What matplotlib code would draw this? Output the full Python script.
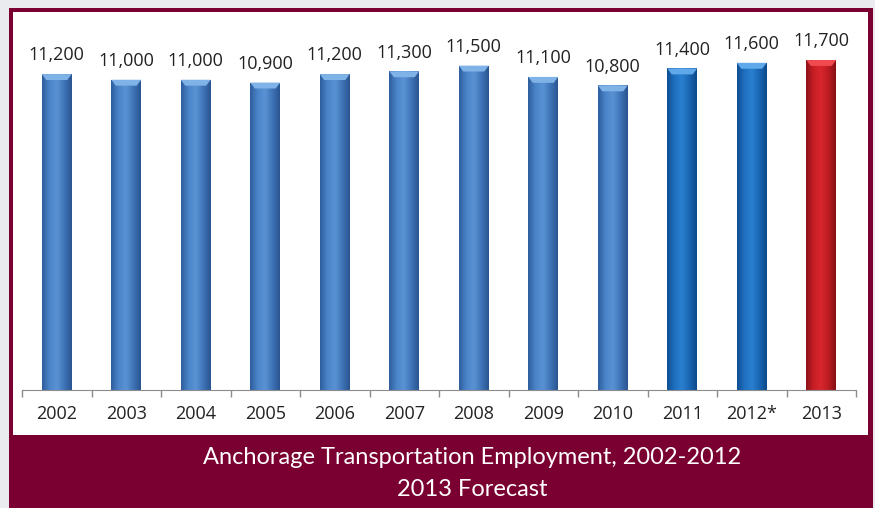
import matplotlib
matplotlib.use("Agg")
import matplotlib.pyplot as plt
from matplotlib.patches import Rectangle
import numpy as np

years = ["2002", "2003", "2004", "2005", "2006", "2007", "2008", "2009", "2010", "2011", "2012*", "2013"]
employment = [11200, 11000, 11000, 10900, 11200, 11300, 11500, 11100, 10800, 11400, 11600, 11700]
kind = ["hist"] * 9 + ["recent", "recent", "forecast"]

W, H = 875, 508
MAROON = "#7b0032"
fig = plt.figure(figsize=(W / 100, H / 100), dpi=100)
fig.patch.set_facecolor("#e9ebee")

def px(x, y, w, h):
    return [x / W, 1 - (y + h) / H, w / W, h / H]

# frame + white panel + title band
fig.patches.append(Rectangle((9 / W, 0), (873 - 9) / W, 1 - 8 / H,
                             transform=fig.transFigure, facecolor=MAROON, edgecolor="none", zorder=0))
fig.patches.append(Rectangle((13 / W, 1 - 435 / H), (868 - 13) / W, (435 - 12) / H,
                             transform=fig.transFigure, facecolor="white", edgecolor="none", zorder=0))

ax = fig.add_axes(px(22, 20, 856 - 22, 370))
ax.set_zorder(5)
ax.set_facecolor("none")
ymax = 370 * 11700 / 330
ax.set_ylim(0, ymax)
ax.set_xlim(-0.5, len(years) - 0.5)

x = np.arange(len(years))
cmaps = {
    "hist": ["#2d5e9e", "#4b85c9", "#5a93d4", "#3f74b8", "#2a5590"],
    "recent": ["#0f4f94", "#1f70bf", "#2a80d0", "#1a66b3", "#0c4a8a"],
    "forecast": ["#8c1217", "#c81e25", "#d8262d", "#bb1c22", "#861015"],
}
tops = {"hist": "#7fb2e6", "recent": "#5fa8ea", "forecast": "#f04a4f"}

bars = ax.bar(x, employment, width=0.43, color="none", edgecolor="none", zorder=2)
for b, k in zip(bars, kind):
    cols = cmaps[k]
    cm = matplotlib.colors.LinearSegmentedColormap.from_list(k, cols)
    grad = np.linspace(0, 1, 64).reshape(1, -1)
    bx, bw, bh = b.get_x(), b.get_width(), b.get_height()
    im = ax.imshow(grad, cmap=cm, aspect="auto", extent=(bx, bx + bw, 0, bh), zorder=2)
    im.set_clip_path(b)
    # top bevel
    bev = bh - ymax * 0.016
    ax.fill([bx, bx + bw, bx + bw * 0.85, bx + bw * 0.15], [bh, bh, bev, bev],
            color=tops[k], zorder=3, lw=0)
    ax.text(b.get_x() + bw / 2, bh + ymax * 0.026, f"{bh:,.0f}", ha="center", va="bottom",
            fontsize=13, color="#222222", family="Open Sans")

ax.set_xticks(x)
ax.set_xticklabels(years, fontsize=13, color="#222222", family="Open Sans")
ax.set_xticks(np.arange(-0.5, len(years)), minor=True)
ax.tick_params(axis="x", which="major", length=0, pad=11)
ax.tick_params(axis="x", which="minor", length=5, color="#8c8c8c", width=1)
ax.set_yticks([])
for s in ["top", "right", "left"]:
    ax.spines[s].set_visible(False)
ax.spines["bottom"].set_color("#8c8c8c")

fig.text(472 / W, 1 - 458 / H, "Anchorage Transportation Employment, 2002-2012",
         ha="center", va="center", fontsize=17, color="white", family="Lato")
fig.text(472 / W, 1 - 489 / H, "2013 Forecast",
         ha="center", va="center", fontsize=17, color="white", family="Lato")

fig.savefig("out.png", dpi=100)
